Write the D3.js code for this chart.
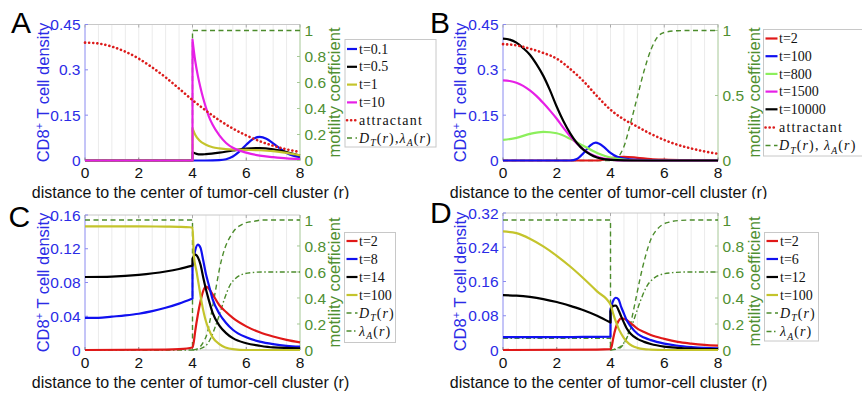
<!DOCTYPE html>
<html><head><meta charset="utf-8">
<script src="https://cdn.jsdelivr.net/npm/d3@7"></script>
<style>body{margin:0;background:#fff} svg{display:block}</style>
</head><body><svg id="c" width="862" height="393"></svg>
<script>
// ---------------- DATA ----------------
const xTicks = [0, 2, 4, 6, 8];
const xLabel = "distance to the center of tumor-cell cluster (r)";
const leftTicksAB = [0, 0.15, 0.3, 0.45];
const leftTicksC = [0, 0.04, 0.08, 0.12, 0.16];
const leftTicksD = [0, 0.08, 0.16, 0.24, 0.32];
const rightTicksA = [0, 0.2, 0.4, 0.6, 0.8, 1];
const rightTicksB = [0, 0.5, 1];
const rightTicksCD = [0, 0.2, 0.4, 0.6, 0.8, 1];

// Panel A
const legendA = ["t=0.1", "t=0.5", "t=1", "t=10"];
const rA_t01 = [0, 4, 4.5, 5, 5.25, 5.5, 5.75, 6, 6.25, 6.5, 6.75, 7, 7.25, 7.5, 7.75, 8];
const vA_t01 = [0, 0, 0, 0.001, 0.004, 0.013, 0.03, 0.052, 0.071, 0.078, 0.072, 0.057, 0.04, 0.025, 0.016, 0.011];
const rA_t05 = [0, 4, 4, 4.15, 4.3, 4.5, 5, 5.5, 6, 6.5, 7, 7.5, 8];
const vA_t05 = [0, 0, 0.027, 0.022, 0.02, 0.021, 0.026, 0.033, 0.039, 0.041, 0.037, 0.028, 0.016];
const rA_t1 = [0, 4, 4, 4.1, 4.25, 4.5, 4.75, 5, 5.5, 6, 6.5, 7, 7.5, 8];
const vA_t1 = [0, 0, 0.106, 0.085, 0.067, 0.052, 0.044, 0.04, 0.036, 0.035, 0.034, 0.031, 0.025, 0.017];
const rA_t10 = [0, 4, 4, 4.1, 4.2, 4.3, 4.4, 4.5, 4.6, 4.75, 5, 5.25, 5.5, 6, 6.5, 7, 7.5, 8];
const vA_t10 = [0, 0, 0.4, 0.33, 0.28, 0.24, 0.205, 0.175, 0.148, 0.118, 0.083, 0.058, 0.042, 0.026, 0.016, 0.011, 0.007, 0.005];
const rA_attr = [0, 0.5, 1, 1.5, 2, 2.5, 3, 3.5, 4, 4.5, 5, 5.5, 6, 6.5, 7, 7.5, 8];
const vA_attr = [0.39, 0.387, 0.377, 0.36, 0.337, 0.308, 0.275, 0.238, 0.2, 0.165, 0.133, 0.106, 0.083, 0.064, 0.049, 0.037, 0.028];
const rA_DT = [0, 4, 4, 8];
const vA_DT = [0, 0, 1, 1];

// Panel B
const legendB = ["t=2", "t=100", "t=800", "t=1500", "t=10000"];
const rB_t2 = [0, 3.5, 4, 4.5, 5, 5.5, 6, 7, 8];
const vB_t2 = [0, 0, 0.008, 0.012, 0.009, 0.005, 0.003, 0.001, 0];
const rB_t100 = [0, 2.5, 2.75, 3, 3.25, 3.45, 3.75, 4, 4.25, 4.5, 5, 6, 8];
const vB_t100 = [0, 0, 0.005, 0.025, 0.05, 0.059, 0.045, 0.025, 0.012, 0.006, 0.002, 0, 0];
const rB_t800 = [0, 0.5, 1, 1.5, 2, 2.5, 3, 3.5, 4, 4.5, 5, 8];
const vB_t800 = [0.068, 0.075, 0.088, 0.095, 0.09, 0.072, 0.048, 0.025, 0.01, 0.003, 0, 0];
const rB_t1500 = [0, 0.25, 0.5, 0.75, 1, 1.25, 1.5, 1.75, 2, 2.25, 2.5, 2.75, 3, 3.25, 3.5, 4, 4.5, 8];
const vB_t1500 = [0.265, 0.263, 0.257, 0.247, 0.232, 0.213, 0.19, 0.165, 0.138, 0.108, 0.08, 0.056, 0.036, 0.022, 0.012, 0.003, 0, 0];
const rB_t10000 = [0, 0.25, 0.5, 0.75, 1, 1.25, 1.5, 1.75, 2, 2.25, 2.5, 2.75, 3, 3.25, 3.5, 4, 5, 8];
const vB_t10000 = [0.403, 0.4, 0.39, 0.372, 0.35, 0.318, 0.28, 0.232, 0.178, 0.13, 0.09, 0.058, 0.035, 0.02, 0.01, 0.002, 0, 0];
const rB_attr = [0, 0.5, 1, 1.5, 2, 2.5, 3, 3.5, 4, 4.5, 5, 5.5, 6, 6.5, 7, 7.5, 8];
const vB_attr = [0.385, 0.381, 0.37, 0.356, 0.337, 0.303, 0.262, 0.213, 0.168, 0.136, 0.112, 0.088, 0.068, 0.052, 0.04, 0.03, 0.022];
const rB_DT = [0, 4.1, 4.3, 4.5, 4.75, 5, 5.25, 5.5, 5.75, 6, 6.5, 7, 8];
const vB_DT = [0, 0, 0.03, 0.107, 0.29, 0.49, 0.69, 0.85, 0.95, 0.985, 0.998, 1, 1];

// Panel C
const legendC = ["t=2", "t=8", "t=14", "t=100"];
const rC_t2 = [0, 3, 3.5, 4, 4.05, 4.1, 4.2, 4.3, 4.4, 4.5, 4.6, 4.75, 5, 5.25, 5.5, 6, 6.5, 7, 7.5, 8];
const vC_t2 = [0, 0.0005, 0.001, 0.003, 0.01, 0.022, 0.042, 0.058, 0.07, 0.075, 0.073, 0.066, 0.053, 0.045, 0.038, 0.028, 0.021, 0.016, 0.012, 0.009];
const rC_t8 = [0, 0.5, 1, 1.5, 2, 2.5, 3, 3.5, 4, 4, 4.1, 4.2, 4.3, 4.4, 4.5, 4.6, 4.75, 5, 5.25, 5.5, 6, 6.5, 7, 7.5, 8];
const vC_t8 = [0.038, 0.038, 0.0395, 0.041, 0.043, 0.046, 0.05, 0.055, 0.061, 0.1, 0.118, 0.125, 0.121, 0.106, 0.09, 0.078, 0.06, 0.043, 0.032, 0.024, 0.015, 0.01, 0.007, 0.005, 0.004];
const rC_t14 = [0, 1, 2, 3, 3.5, 4, 4, 4.1, 4.2, 4.3, 4.4, 4.5, 4.6, 4.75, 5, 5.25, 5.5, 6, 6.5, 7, 8];
const vC_t14 = [0.0865, 0.087, 0.089, 0.093, 0.096, 0.1, 0.108, 0.113, 0.11, 0.101, 0.086, 0.072, 0.06, 0.044, 0.029, 0.02, 0.014, 0.008, 0.005, 0.003, 0.002];
const rC_t100 = [0, 1, 2, 3, 3.5, 3.9, 4, 4.05, 4.15, 4.25, 4.35, 4.5, 4.6, 4.75, 5, 5.5, 6, 8];
const vC_t100 = [0.1465, 0.1465, 0.1465, 0.1462, 0.146, 0.1455, 0.145, 0.112, 0.093, 0.074, 0.055, 0.034, 0.025, 0.015, 0.007, 0.001, 0, 0];
const rC_DT = [0, 4, 4, 4.2, 4.4, 4.55, 4.7, 4.85, 5, 5.2, 5.4, 5.6, 5.8, 6, 6.3, 6.6, 7, 8];
const vC_DT = [1, 1, 0, 0.01, 0.06, 0.13, 0.28, 0.45, 0.62, 0.78, 0.87, 0.93, 0.96, 0.98, 0.99, 1, 1, 1];
const rC_LA = [0, 4, 4.2, 4.4, 4.55, 4.7, 4.85, 5, 5.2, 5.4, 5.6, 5.8, 6.2, 6.6, 7, 8];
const vC_LA = [0, 0, 0.005, 0.02, 0.045, 0.1, 0.18, 0.27, 0.4, 0.5, 0.55, 0.577, 0.595, 0.6, 0.6, 0.6];

// Panel D
const legendD = ["t=2", "t=6", "t=12", "t=100"];
const rD_t2 = [0, 3.5, 4, 4.05, 4.1, 4.2, 4.3, 4.4, 4.5, 4.6, 4.75, 5, 5.25, 5.5, 6, 6.5, 7, 7.5, 8];
const vD_t2 = [0, 0.001, 0.002, 0.01, 0.027, 0.053, 0.068, 0.074, 0.073, 0.07, 0.063, 0.05, 0.042, 0.035, 0.026, 0.019, 0.015, 0.012, 0.01];
const rD_t6 = [0, 1, 2, 3, 4, 4, 4.1, 4.2, 4.3, 4.4, 4.5, 4.6, 4.75, 5, 5.25, 5.5, 6, 6.5, 7, 7.5, 8];
const vD_t6 = [0.03, 0.03, 0.03, 0.0305, 0.031, 0.095, 0.115, 0.122, 0.118, 0.1, 0.085, 0.07, 0.055, 0.038, 0.029, 0.023, 0.015, 0.01, 0.007, 0.005, 0.004];
const rD_t12 = [0, 0.5, 1, 1.5, 2, 2.5, 3, 3.5, 4, 4, 4.1, 4.2, 4.3, 4.4, 4.5, 4.6, 4.75, 5, 5.25, 5.5, 6, 6.5, 7, 7.5, 8];
const vD_t12 = [0.128, 0.127, 0.124, 0.119, 0.112, 0.103, 0.093, 0.08, 0.064, 0.09, 0.103, 0.104, 0.093, 0.078, 0.064, 0.051, 0.038, 0.026, 0.019, 0.014, 0.008, 0.005, 0.003, 0.002, 0.002];
const rD_t100 = [0, 0.5, 1, 1.5, 2, 2.5, 3, 3.5, 4, 4.1, 4.2, 4.3, 4.4, 4.5, 4.6, 4.8, 5, 5.25, 5.5, 6, 8];
const vD_t100 = [0.277, 0.273, 0.26, 0.242, 0.22, 0.195, 0.167, 0.137, 0.106, 0.085, 0.066, 0.05, 0.038, 0.028, 0.02, 0.01, 0.005, 0.002, 0.001, 0, 0];
const rD_DT = [0, 4, 4, 4.3, 4.5, 4.65, 4.8, 4.95, 5.1, 5.3, 5.5, 5.7, 5.9, 6.2, 6.6, 7, 8];
const vD_DT = [1, 1, 0, 0.01, 0.05, 0.12, 0.25, 0.4, 0.55, 0.72, 0.85, 0.92, 0.96, 0.985, 0.997, 1, 1];
const rD_LA = [0, 4, 4, 4.2, 4.4, 4.6, 4.85, 5.1, 5.35, 5.6, 5.8, 6.3, 6.8, 7, 8];
const vD_LA = [0.09, 0.09, 0, 0.01, 0.03, 0.09, 0.22, 0.37, 0.49, 0.55, 0.575, 0.595, 0.6, 0.6, 0.6];

// ---------------- STYLE ----------------
const SANS = "'Liberation Sans', Arial, Helvetica, sans-serif";
const SERIF = "'Liberation Serif', 'Times New Roman', serif";
const C = {
  red: "#e01818", blue: "#1010f0", black: "#000000", olive: "#c4c42c",
  magenta: "#e620e6", lime: "#8cef5c", green: "#4c8c2c", attr: "#dc1c1c",
  blueTxt: "#2b2be6", greenTxt: "#4f8f31", blueAxis: "#8a8af0", greenAxis: "#a6c896",
  grid: "#ebebeb", box: "#c8c8c8"
};
const STYLES = {
  solid: { dash: null, w: 2.2, cap: "butt" },
  dot: { dash: "0.1,4", w: 2.6, cap: "round" },
  dash: { dash: "5,3.5", w: 1.4, cap: "butt" },
  dashdot: { dash: "5,2.5,1.5,2.5", w: 1.4, cap: "butt" }
};

const svg = d3.select("#c");
svg.append("rect").attr("width", 862).attr("height", 393).attr("fill", "#fff");

function pathFor(rs, vs, x, y) {
  const line = d3.line().curve(d3.curveMonotoneX);
  const segs = []; let cur = [[x(rs[0]), y(vs[0])]];
  for (let i = 1; i < rs.length; i++) {
    const p = [x(rs[i]), y(vs[i])];
    if (rs[i] === rs[i - 1]) { segs.push(cur); cur = [p]; } else cur.push(p);
  }
  segs.push(cur);
  return segs.map((s, k) => {
    const d = s.length > 1 ? line(s) : `M${s[0][0]},${s[0][1]}`;
    return k ? d.replace(/^M/, "L") : d;
  }).join("");
}

function mathText(sel, parts, size) {
  parts.forEach(p => {
    const t = sel.append("tspan").text(p.t);
    if (p.i) t.attr("font-style", "italic");
    if (p.sub) t.attr("font-size", size * 0.7).attr("dy", size * 0.25);
    if (p.after) t.attr("dy", -size * 0.25);
  });
}
const DT = [{ t: "D", i: 1 }, { t: "T", i: 1, sub: 1 }, { t: "(", after: 1 }, { t: "r", i: 1 }, { t: ")" }];
const LA = [{ t: "\u03bb", i: 1 }, { t: "A", i: 1, sub: 1 }, { t: "(", after: 1 }, { t: "r", i: 1 }, { t: ")" }];

function drawPanel(cfg) {
  const g = svg.append("g");
  if (cfg.bg) g.append("rect").attr("x", cfg.bg[0]).attr("y", cfg.bg[1]).attr("width", cfg.bg[2]).attr("height", cfg.bg[3]).attr("fill", "#fff");
  const x = d3.scaleLinear().domain([0, 8]).range([cfg.x0, cfg.x1]);
  const yL = d3.scaleLinear().domain([0, cfg.lMax]).range([cfg.yB, cfg.yT]);
  const yR = d3.scaleLinear().domain([0, cfg.rMax]).range([cfg.yB, cfg.yT]);
  // minor grid
  g.append("g").selectAll("line").data(d3.range(0.5, 8, 0.5)).join("line")
    .attr("x1", d => x(d)).attr("x2", d => x(d)).attr("y1", cfg.yT).attr("y2", cfg.yB)
    .attr("stroke", C.grid).attr("stroke-width", 1);
  // box
  g.append("line").attr("x1", cfg.x0).attr("x2", cfg.x1).attr("y1", cfg.yT).attr("y2", cfg.yT).attr("stroke", C.box);
  g.append("line").attr("x1", cfg.x0).attr("x2", cfg.x1).attr("y1", cfg.yB).attr("y2", cfg.yB).attr("stroke", C.box);
  g.append("line").attr("x1", cfg.x0).attr("x2", cfg.x0).attr("y1", cfg.yT).attr("y2", cfg.yB).attr("stroke", C.blueAxis);
  g.append("line").attr("x1", cfg.x1).attr("x2", cfg.x1).attr("y1", cfg.yT).attr("y2", cfg.yB).attr("stroke", C.greenAxis);
  // ticks
  xTicks.forEach(t => {
    g.append("line").attr("x1", x(t)).attr("x2", x(t)).attr("y1", cfg.yB).attr("y2", cfg.yB - 3).attr("stroke", "#888");
    g.append("line").attr("x1", x(t)).attr("x2", x(t)).attr("y1", cfg.yT).attr("y2", cfg.yT + 3).attr("stroke", "#aaa");
    g.append("text").attr("x", x(t)).attr("y", cfg.yB + 17.5).attr("text-anchor", "middle")
      .attr("font-family", SANS).attr("font-size", 15.5).attr("fill", "#111").text(String(t));
  });
  cfg.lTicks.forEach(t => {
    g.append("line").attr("x1", cfg.x0).attr("x2", cfg.x0 + 3).attr("y1", yL(t)).attr("y2", yL(t)).attr("stroke", C.blueAxis);
    g.append("text").attr("x", cfg.x0 - 4.5).attr("y", yL(t)).attr("dy", "0.36em").attr("text-anchor", "end")
      .attr("font-family", SANS).attr("font-size", 15.5).attr("fill", C.blueTxt).text(String(t));
  });
  cfg.rTicks.forEach(t => {
    g.append("line").attr("x1", cfg.x1).attr("x2", cfg.x1 - 3).attr("y1", yR(t)).attr("y2", yR(t)).attr("stroke", C.greenAxis);
    g.append("text").attr("x", cfg.x1 + 4.5).attr("y", yR(t)).attr("dy", "0.36em").attr("text-anchor", "start")
      .attr("font-family", SANS).attr("font-size", 15.5).attr("fill", C.greenTxt).text(String(t));
  });
  // titles
  g.append("text").attr("x", (cfg.x0 + cfg.x1) / 2 - 2).attr("y", cfg.yB + 37.5).attr("text-anchor", "middle")
    .attr("font-family", SANS).attr("font-size", 16).attr("fill", "#111").text(xLabel);
  const lt = g.append("text").attr("transform", `translate(${cfg.ltX},${(cfg.yT + cfg.yB) / 2}) rotate(-90)`)
    .attr("text-anchor", "middle").attr("font-family", SANS).attr("font-size", 16.5).attr("fill", C.blueTxt);
  lt.append("tspan").text("CD8");
  lt.append("tspan").attr("font-size", 11).attr("dy", -6).text("+");
  lt.append("tspan").attr("dy", 6).text(" T cell density");
  g.append("text").attr("transform", `translate(${cfg.rtX},${(cfg.yT + cfg.yB) / 2}) rotate(-90)`)
    .attr("text-anchor", "middle").attr("font-family", SANS).attr("font-size", 16.5).attr("fill", C.greenTxt)
    .text("motility coefficient");
  // letter
  g.append("text").attr("x", cfg.letter[1]).attr("y", cfg.letter[2]).attr("font-family", SANS)
    .attr("font-size", 30).attr("fill", "#000").text(cfg.letter[0]);
  // series
  const clipId = "clip" + cfg.letter[0];
  svg.append("clipPath").attr("id", clipId).append("rect")
    .attr("x", cfg.x0 - 2).attr("y", cfg.yT - 2).attr("width", cfg.x1 - cfg.x0 + 4).attr("height", cfg.yB - cfg.yT + 4);
  const sg = g.append("g").attr("clip-path", `url(#${clipId})`);
  cfg.series.forEach(s => {
    const st = STYLES[s.style];
    sg.append("path").attr("d", pathFor(s.r, s.v, x, s.axis === "R" ? yR : yL))
      .attr("fill", "none").attr("stroke", s.color).attr("stroke-width", st.w)
      .attr("stroke-dasharray", st.dash).attr("stroke-linecap", st.cap).attr("stroke-linejoin", "round");
  });
  // legend
  const L = cfg.legend;
  g.append("rect").attr("x", L.x).attr("y", L.y).attr("width", L.w).attr("height", L.h)
    .attr("fill", "#fff").attr("stroke", C.box).attr("stroke-width", 1);
  L.items.forEach((it, i) => {
    const yy = L.rows[i];
    const st = STYLES[it.style];
    g.append("line").attr("x1", L.lx0).attr("x2", L.lx1).attr("y1", yy).attr("y2", yy)
      .attr("stroke", it.color).attr("stroke-width", st.w).attr("stroke-dasharray", st.dash).attr("stroke-linecap", st.cap);
    const tx = g.append("text").attr("x", L.tx).attr("y", yy).attr("dy", "0.33em")
      .attr("font-family", SERIF).attr("font-size", 14).attr("fill", "#111");
    if (typeof it.label === "string") {
      tx.text(it.label);
      if (it.label === "attractant") tx.attr("letter-spacing", 1.2);
    } else {
      tx.attr("letter-spacing", 1.1);
      mathText(tx, it.label, 14);
    }
  });
}

const solid = (r, v, color) => ({ r, v, color, style: "solid", axis: "L" });

drawPanel({
  x0: 85, x1: 300, yT: 24.5, yB: 160.5, lMax: 0.45, rMax: 1.046, lTicks: leftTicksAB, rTicks: rightTicksA,
  ltX: 48.5, rtX: 340, letter: ["A", 11, 33.3],
  series: [
    { r: rA_DT, v: vA_DT, color: C.green, style: "dash", axis: "R" },
    solid(rA_t01, vA_t01, C.blue), solid(rA_t05, vA_t05, C.black), solid(rA_t1, vA_t1, C.olive), solid(rA_t10, vA_t10, C.magenta),
    { r: rA_attr, v: vA_attr, color: C.attr, style: "dot", axis: "L" }
  ],
  legend: {
    x: 345, y: 39.5, w: 91, h: 107.5, lx0: 347, lx1: 357, tx: 359, rows: [49, 66.8, 84.6, 102.4, 120.2, 138],
    items: [
      { color: C.blue, style: "solid", label: legendA[0] }, { color: C.black, style: "solid", label: legendA[1] },
      { color: C.olive, style: "solid", label: legendA[2] }, { color: C.magenta, style: "solid", label: legendA[3] },
      { color: C.attr, style: "dot", label: "attractant" },
      { color: C.green, style: "dash", label: DT.concat([{ t: "," }], LA) }
    ]
  }
});

drawPanel({
  x0: 503, x1: 718, yT: 24.5, yB: 160.5, lMax: 0.45, rMax: 1.046, lTicks: leftTicksAB, rTicks: rightTicksB,
  ltX: 466, rtX: 760, letter: ["B", 430, 33.3],
  series: [
    { r: rB_DT, v: vB_DT, color: C.green, style: "dash", axis: "R" },
    solid(rB_t2, vB_t2, C.red), solid(rB_t100, vB_t100, C.blue), solid(rB_t800, vB_t800, C.lime),
    solid(rB_t1500, vB_t1500, C.magenta), solid(rB_t10000, vB_t10000, C.black),
    { r: rB_attr, v: vB_attr, color: C.attr, style: "dot", axis: "L" }
  ],
  legend: {
    x: 763.5, y: 29.5, w: 110, h: 126.5, lx0: 765.5, lx1: 777.5, tx: 779, rows: [38.5, 56.2, 73.9, 91.6, 109.3, 127.5, 145.5],
    items: [
      { color: C.red, style: "solid", label: legendB[0] }, { color: C.blue, style: "solid", label: legendB[1] },
      { color: C.lime, style: "solid", label: legendB[2] }, { color: C.magenta, style: "solid", label: legendB[3] },
      { color: C.black, style: "solid", label: legendB[4] },
      { color: C.attr, style: "dot", label: "attractant" },
      { color: C.green, style: "dash", label: DT.concat([{ t: ", " }], LA) }
    ]
  }
});

drawPanel({
  bg: [0, 199, 431, 194],
  x0: 85, x1: 300, yT: 215, yB: 350, lMax: 0.16, rMax: 1.038, lTicks: leftTicksC, rTicks: rightTicksCD,
  ltX: 48.5, rtX: 340, letter: ["C", 8.5, 226.5],
  series: [
    { r: rC_DT, v: vC_DT, color: C.green, style: "dash", axis: "R" },
    { r: rC_LA, v: vC_LA, color: C.green, style: "dashdot", axis: "R" },
    solid(rC_t2, vC_t2, C.red), solid(rC_t8, vC_t8, C.blue), solid(rC_t14, vC_t14, C.black), solid(rC_t100, vC_t100, C.olive)
  ],
  legend: {
    x: 344.5, y: 232.5, w: 51, h: 110, lx0: 346.5, lx1: 357.5, tx: 359, rows: [241, 259, 277, 295, 313, 331],
    items: [
      { color: C.red, style: "solid", label: legendC[0] }, { color: C.blue, style: "solid", label: legendC[1] },
      { color: C.black, style: "solid", label: legendC[2] }, { color: C.olive, style: "solid", label: legendC[3] },
      { color: C.green, style: "dash", label: DT }, { color: C.green, style: "dashdot", label: LA }
    ]
  }
});

drawPanel({
  bg: [431, 199, 431, 194],
  x0: 503, x1: 718, yT: 213, yB: 350, lMax: 0.32, rMax: 1.054, lTicks: leftTicksD, rTicks: rightTicksCD,
  ltX: 466, rtX: 760, letter: ["D", 430, 223],
  series: [
    { r: rD_DT, v: vD_DT, color: C.green, style: "dash", axis: "R" },
    { r: rD_LA, v: vD_LA, color: C.green, style: "dashdot", axis: "R" },
    solid(rD_t2, vD_t2, C.red), solid(rD_t6, vD_t6, C.blue), solid(rD_t12, vD_t12, C.black), solid(rD_t100, vD_t100, C.olive)
  ],
  legend: {
    x: 764.5, y: 232.5, w: 54, h: 108.5, lx0: 766.5, lx1: 778, tx: 780, rows: [241, 259, 277, 295, 313, 331.5],
    items: [
      { color: C.red, style: "solid", label: legendD[0] }, { color: C.blue, style: "solid", label: legendD[1] },
      { color: C.black, style: "solid", label: legendD[2] }, { color: C.olive, style: "solid", label: legendD[3] },
      { color: C.green, style: "dash", label: DT }, { color: C.green, style: "dashdot", label: LA }
    ]
  }
});
</script></body></html>
